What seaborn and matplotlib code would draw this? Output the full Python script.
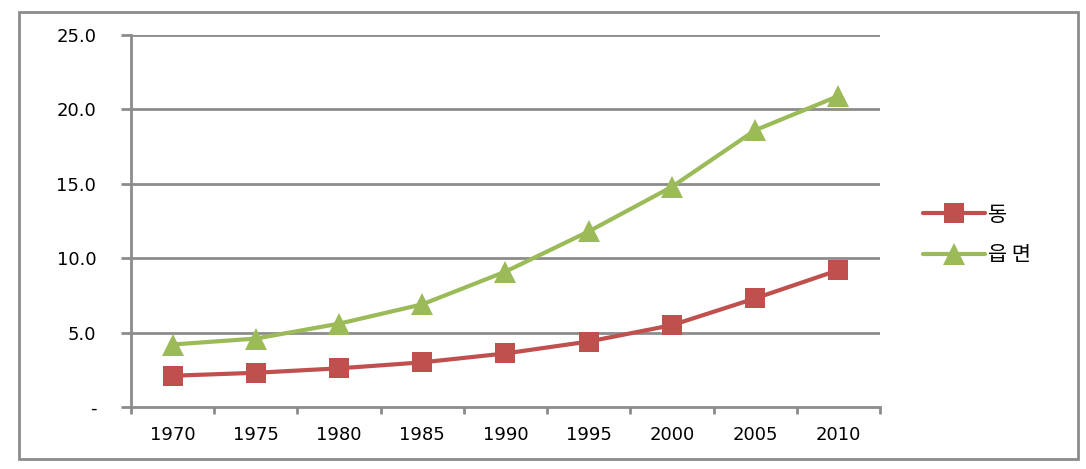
import matplotlib
matplotlib.use("Agg")
import matplotlib.pyplot as plt
import matplotlib.patches as mpatches
from matplotlib.lines import Line2D
import numpy as np
import pandas as pd
import seaborn as sns

years = ["1970", "1975", "1980", "1985", "1990", "1995", "2000", "2005", "2010"]
dong = [2.1, 2.3, 2.6, 3.0, 3.6, 4.4, 5.5, 7.3, 9.2]
eupmyeon = [4.2, 4.6, 5.6, 6.9, 9.1, 11.8, 14.8, 18.6, 20.9]
series_names = ["동", "읍 면"]
ytick_vals = [0, 5, 10, 15, 20, 25]
ytick_labels = ["-", "5.0", "10.0", "15.0", "20.0", "25.0"]

sns.set_theme(style="white")
plt.rcParams['font.family'] = ['Noto Sans CJK KR', 'DejaVu Sans']

red = "#C0504D"
green = "#9BBB59"
grid_c = "#8C8C8C"

fig = plt.figure(figsize=(10.86, 4.69), dpi=100)
ax = fig.add_axes([131/1086, 1-407/469, (880-131)/1086, (407-35)/469])

pos = np.arange(len(years))
df = pd.DataFrame({"pos": np.concatenate([pos, pos]),
                   "value": dong + eupmyeon,
                   "series": [series_names[0]]*len(years) + [series_names[1]]*len(years)})

for y in ytick_vals[1:]:
    ax.axhline(y, color=grid_c, lw=2, zorder=0)

sns.lineplot(data=df[df.series == series_names[0]], x="pos", y="value", ax=ax,
             color=red, lw=3, marker="s", markersize=14, markeredgewidth=0,
             legend=False, zorder=3)
sns.lineplot(data=df[df.series == series_names[1]], x="pos", y="value", ax=ax,
             color=green, lw=3, marker="^", markersize=16, markeredgewidth=0,
             legend=False, zorder=3)

ax.set_xlim(-0.5, len(years) - 0.5)
ax.set_ylim(0, 25)
ax.set_xlabel("")
ax.set_ylabel("")

ax.set_yticks(ytick_vals)
ax.set_yticklabels(ytick_labels, fontsize=13, family=['DejaVu Sans'], color="black")
ax.set_xticks(np.arange(-0.5, len(years), 1))
ax.set_xticklabels([""] * (len(years) + 1))
ax.set_xticks(pos, minor=True)
ax.set_xticklabels(years, minor=True, fontsize=13, family=['DejaVu Sans'], color="black")
ax.tick_params(axis="x", which="major", direction="out", length=5, width=2, color=grid_c, bottom=True)
ax.tick_params(axis="x", which="minor", length=0, pad=14, bottom=True)
ax.tick_params(axis="y", direction="out", length=7, width=2, color=grid_c, pad=18, left=True)

for s in ["top", "right"]:
    ax.spines[s].set_visible(False)
for s in ["left", "bottom"]:
    ax.spines[s].set_color(grid_c)
    ax.spines[s].set_linewidth(2)

handles = [Line2D([], [], color=red, lw=3, marker="s", markersize=14, markeredgewidth=0),
           Line2D([], [], color=green, lw=3, marker="^", markersize=16, markeredgewidth=0)]
leg = fig.legend(handles, series_names, loc="center left", bbox_to_anchor=(904/1086, 1-235/469),
                 frameon=False, fontsize=15, handlelength=3.0, handletextpad=0.15, labelspacing=0.9)
for t in leg.get_texts():
    t.set_color("black")

fig.add_artist(mpatches.Rectangle((19/1086, 1-459/469), (1078-19)/1086, (459-12)/469,
                                  transform=fig.transFigure, fill=False, edgecolor="#8C8C8C", lw=2))

fig.savefig("out.png", dpi=100)
